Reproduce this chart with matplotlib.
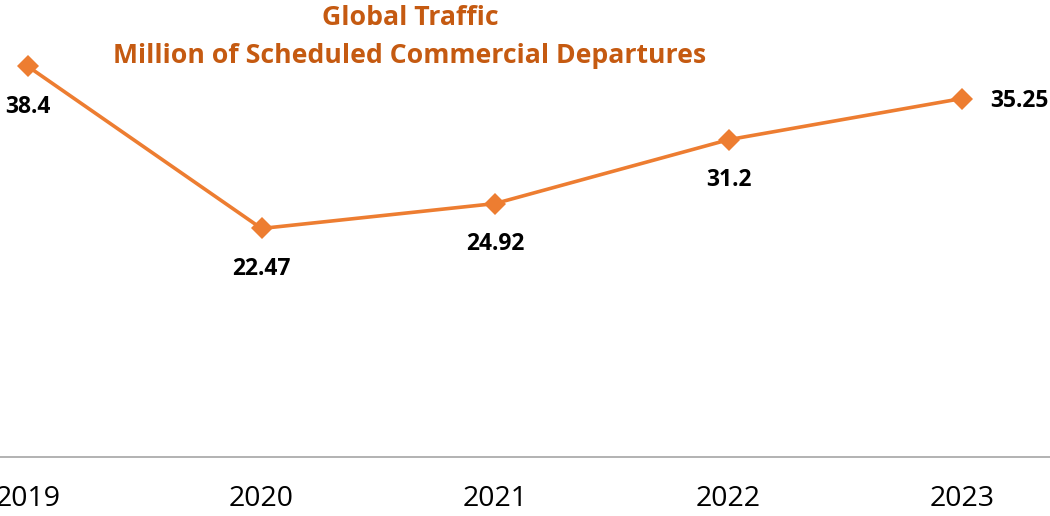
import numpy as np
import matplotlib.pyplot as plt

plt.rcParams['font.family'] = ['Open Sans', 'DejaVu Sans']

# Data
years = ["2019", "2020", "2021", "2022", "2023"]
departures = [38.4, 22.47, 24.92, 31.2, 35.25]
value_labels = ["38.4", "22.47", "24.92", "31.2", "35.25"]

line_color = "#ED7D31"
title_color = "#C55A11"

fig = plt.figure(figsize=(10.5, 5.16), dpi=100)
ax = fig.add_axes([0, 59 / 516, 1, 1 - 59 / 516])

x = np.arange(len(years))
ax.plot(x, departures, color=line_color, lw=2.6, marker="D", markersize=11.5,
        markeredgewidth=0, solid_capstyle="round", clip_on=False)

# Data labels: last one to the right, rest below the point
for i, (xi, v, lab) in enumerate(zip(x, departures, value_labels)):
    if i == len(x) - 1:
        ax.annotate(lab, (xi, v), xytext=(20, -2), textcoords="offset points",
                    ha="left", va="center", fontsize=16.5, fontweight="bold",
                    color="black")
    else:
        ax.annotate(lab, (xi, v), xytext=(0, -29), textcoords="offset points",
                    ha="center", va="center", fontsize=16.5, fontweight="bold",
                    color="black")

ax.set_xlim(-28 / 233.5, 4 + 88 / 233.5)
ax.set_ylim(0, 457 / 10.17)

ax.set_xticks(x)
ax.set_xticklabels(years, fontsize=20.5)
ax.tick_params(axis="x", length=0, pad=20)
ax.set_yticks([])

for side in ["top", "right", "left"]:
    ax.spines[side].set_visible(False)
ax.spines["bottom"].set_color("#A6A6A6")
ax.spines["bottom"].set_linewidth(1.2)

fig.text(410 / 1050, 1 - 18 / 516, "Global Traffic", ha="center", va="center",
         fontsize=19.2, fontweight="bold", color=title_color)
fig.text(410 / 1050, 1 - 56 / 516, "Million of Scheduled Commercial Departures",
         ha="center", va="center", fontsize=19.2, fontweight="bold",
         color=title_color)

fig.savefig("out.png", dpi=100)
